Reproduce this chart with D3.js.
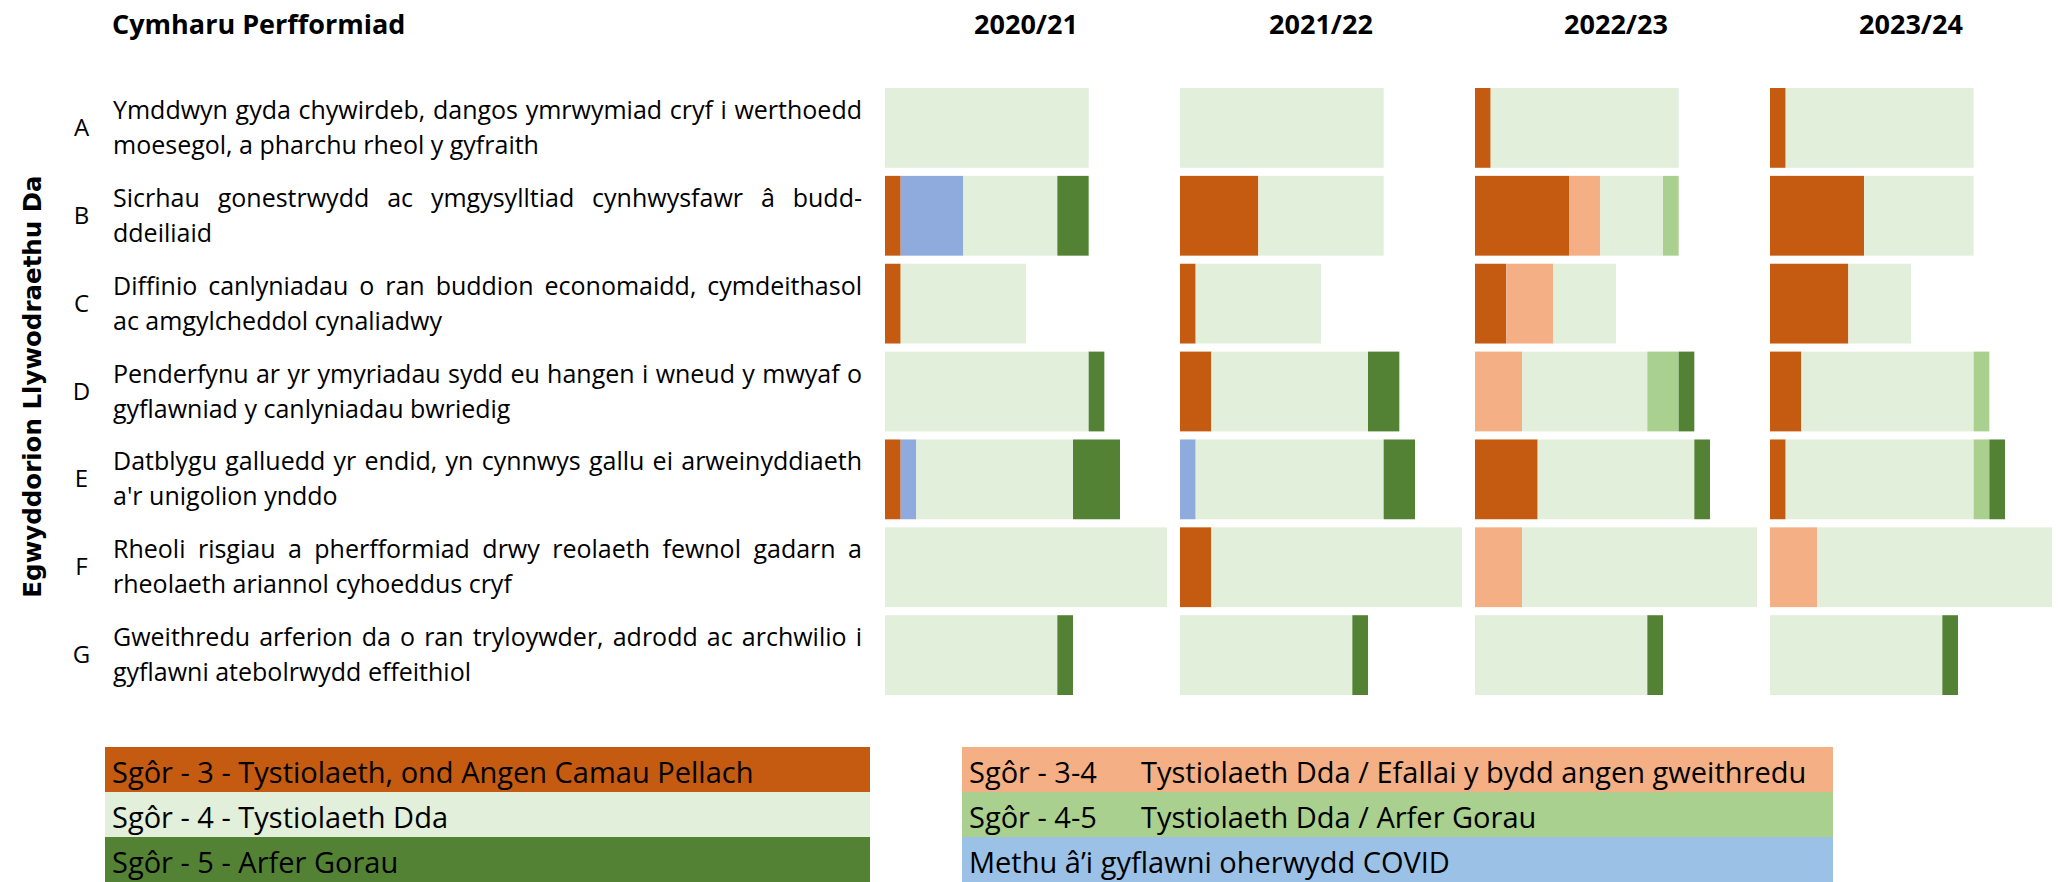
<!DOCTYPE html>
<html lang="cy">
<head>
  <meta charset="UTF-8">
  <title>Cymharu Perfformiad</title>
  <style>
    body { margin: 0; background: #fff; }
    svg { font-family: "Open Sans", "Noto Sans", sans-serif; }
  </style>
</head>
<body>
  <script src="https://d3js.org/d3.v7.min.js"></script>
  <script>
    const years = ['2020/21', '2021/22', '2022/23', '2023/24'];
    const principles = ['A', 'B', 'C', 'D', 'E', 'F', 'G'];
    const principleText = [
      ['Ymddwyn gyda chywirdeb, dangos ymrwymiad cryf i werthoedd', 'moesegol, a pharchu rheol y gyfraith'],
      ['Sicrhau gonestrwydd ac ymgysylltiad cynhwysfawr â budd-', 'ddeiliaid'],
      ['Diffinio canlyniadau o ran buddion economaidd, cymdeithasol', 'ac amgylcheddol cynaliadwy'],
      ['Penderfynu ar yr ymyriadau sydd eu hangen i wneud y mwyaf o', 'gyflawniad y canlyniadau bwriedig'],
      ['Datblygu galluedd yr endid, yn cynnwys gallu ei arweinyddiaeth', "a'r unigolion ynddo"],
      ['Rheoli risgiau a pherfformiad drwy reolaeth fewnol gadarn a', 'rheolaeth ariannol cyhoeddus cryf'],
      ['Gweithredu arferion da o ran tryloywder, adrodd ac archwilio i', 'gyflawni atebolrwydd effeithiol']
    ];

    // order of segments inside each bar
    const scoreKeys = ['s3', 'covid', 's34', 's4', 's45', 's5'];

    // counts per principle: [s3, covid, s34, s4, s45, s5]
    const counts2021 = [
      [0, 0, 0, 13, 0, 0], [1, 4, 0, 6, 0, 2], [1, 0, 0, 8, 0, 0], [0, 0, 0, 13, 0, 1],
      [1, 1, 0, 10, 0, 3], [0, 0, 0, 18, 0, 0], [0, 0, 0, 11, 0, 1]
    ];
    const counts2122 = [
      [0, 0, 0, 13, 0, 0], [5, 0, 0, 8, 0, 0], [1, 0, 0, 8, 0, 0], [2, 0, 0, 10, 0, 2],
      [0, 1, 0, 12, 0, 2], [2, 0, 0, 16, 0, 0], [0, 0, 0, 11, 0, 1]
    ];
    const counts2223 = [
      [1, 0, 0, 12, 0, 0], [6, 0, 2, 4, 1, 0], [2, 0, 3, 4, 0, 0], [0, 0, 3, 8, 2, 1],
      [4, 0, 0, 10, 0, 1], [0, 0, 3, 15, 0, 0], [0, 0, 0, 11, 0, 1]
    ];
    const counts2324 = [
      [1, 0, 0, 12, 0, 0], [6, 0, 0, 7, 0, 0], [5, 0, 0, 4, 0, 0], [2, 0, 0, 11, 1, 0],
      [1, 0, 0, 12, 1, 1], [0, 0, 3, 15, 0, 0], [0, 0, 0, 11, 0, 1]
    ];
    const countsByYear = [counts2021, counts2122, counts2223, counts2324];

    // legend
    const legendLeft = ['s3', 's4', 's5'];
    const legendRight = ['s34', 's45', 'covid'];
    const legendLabels = {
      s3: ['Sgôr - 3 - Tystiolaeth, ond Angen Camau Pellach'],
      s4: ['Sgôr - 4 - Tystiolaeth Dda'],
      s5: ['Sgôr - 5 - Arfer Gorau'],
      s34: ['Sgôr - 3-4', 'Tystiolaeth Dda / Efallai y bydd angen gweithredu'],
      s45: ['Sgôr - 4-5', 'Tystiolaeth Dda / Arfer Gorau'],
      covid: ['Methu â’i gyflawni oherwydd COVID']
    };

    const color = d3.scaleOrdinal()
      .domain(scoreKeys)
      .range(['#c55a11', '#8faadc', '#f4b084', '#e2efda', '#a9d08e', '#548235']);
    const legendColor = d3.scaleOrdinal()
      .domain(scoreKeys)
      .range(['#c55a11', '#9bc2e6', '#f4b084', '#e2efda', '#a9d08e', '#548235']);

    const W = 2058, H = 882;
    const svg = d3.select('body').append('svg')
      .attr('width', W)
      .attr('height', H);

    // scales
    const yRow = d3.scaleBand()
      .domain(principles)
      .range([88, 695])
      .paddingInner(0.092)
      .paddingOuter(0);

    const xYear = d3.scaleBand()
      .domain(years)
      .range([885, 885 + 4 * 295]);

    const xCount = d3.scaleLinear()
      .domain([0, 18])
      .range([0, 282]);

    // headers
    svg.append('text')
      .attr('x', 112)
      .attr('y', 34)
      .style('font-weight', 700)
      .style('font-size', '27px')
      .text('Cymharu Perfformiad');

    svg.selectAll('text.year')
      .data(years)
      .enter().append('text')
      .attr('class', 'year')
      .attr('x', d => xYear(d) + xCount(9))
      .attr('y', 34)
      .attr('text-anchor', 'middle')
      .style('font-weight', 700)
      .style('font-size', '27px')
      .text(d => d);

    // vertical axis title
    svg.append('text')
      .attr('transform', `translate(41,${(yRow('A') + yRow('G') + yRow.bandwidth()) / 2 - 5}) rotate(-90)`)
      .attr('text-anchor', 'middle')
      .style('font-family', '"DejaVu Sans", sans-serif')
      .style('font-weight', 700)
      .style('font-size', '24.5px')
      .text('Egwyddorion Llywodraethu Da');

    // row labels
    const rows = svg.selectAll('g.row')
      .data(principles)
      .enter().append('g')
      .attr('class', 'row')
      .attr('transform', d => `translate(0,${yRow(d) + yRow.bandwidth() / 2})`);

    rows.append('text')
      .attr('x', 81.5)
      .attr('y', 8)
      .attr('text-anchor', 'middle')
      .style('font-size', '24px')
      .text(d => d);

    const textX = 113, textRight = 862;
    rows.each(function (d, i) {
      const g = d3.select(this);
      const lines = principleText[i];
      // first line is justified to the column edge, one text per word
      const words = lines[0].split(' ');
      const wordSel = g.selectAll('text.word')
        .data(words)
        .enter().append('text')
        .attr('class', 'word')
        .attr('y', -9)
        .style('font-size', '25px')
        .text(w => w);
      const widths = [];
      wordSel.each(function () { widths.push(this.getComputedTextLength()); });
      const gap = (textRight - textX - d3.sum(widths)) / (words.length - 1);
      let cx = textX;
      wordSel.attr('x', (w, j) => {
        const x = cx;
        cx += widths[j] + gap;
        return x;
      });

      g.append('text')
        .attr('x', textX)
        .attr('y', 26)
        .style('font-size', '25px')
        .text(lines[1]);
    });

    // stacked bars
    years.forEach((yr, yi) => {
      const rowsData = countsByYear[yi].map((c, i) => {
        const o = { principle: principles[i] };
        scoreKeys.forEach((k, j) => { o[k] = c[j]; });
        return o;
      });
      const stacked = d3.stack().keys(scoreKeys)(rowsData);

      const panel = svg.append('g')
        .attr('class', 'panel')
        .attr('transform', `translate(${xYear(yr)},0)`);

      panel.selectAll('g.layer')
        .data(stacked)
        .enter().append('g')
        .attr('class', 'layer')
        .attr('fill', d => color(d.key))
        .selectAll('rect')
        .data(d => d.filter(s => s[1] > s[0]))
        .enter().append('rect')
        .attr('x', d => xCount(d[0]))
        .attr('y', d => yRow(d.data.principle))
        .attr('width', d => xCount(d[1]) - xCount(d[0]))
        .attr('height', yRow.bandwidth());
    });

    // legend
    const yLeg = d3.scaleBand()
      .domain([0, 1, 2])
      .range([747, 882]);

    function drawLegend(keys, x0, x1, x2) {
      const items = svg.selectAll(null)
        .data(keys)
        .enter().append('g')
        .attr('transform', (d, i) => `translate(0,${yLeg(i)})`);
      items.append('rect')
        .attr('x', x0)
        .attr('width', x1 - x0)
        .attr('height', yLeg.bandwidth())
        .attr('fill', d => legendColor(d));
      items.append('text')
        .attr('x', x0 + 7)
        .attr('y', 36)
        .style('font-size', '29px')
        .text(d => legendLabels[d][0]);
      items.filter(d => legendLabels[d].length > 1)
        .append('text')
        .attr('x', x2)
        .attr('y', 36)
        .style('font-size', '29px')
        .text(d => legendLabels[d][1]);
    }

    drawLegend(legendLeft, 105, 870, 0);
    drawLegend(legendRight, 962, 1833, 1141);
  </script>
</body>
</html>
